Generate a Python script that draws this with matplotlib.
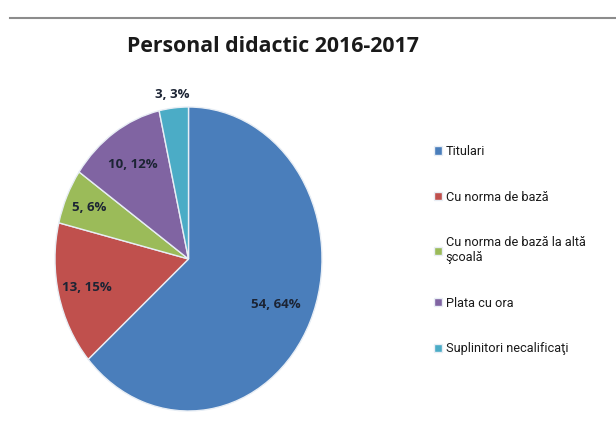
import numpy as np
import matplotlib.pyplot as plt
from matplotlib.lines import Line2D

categories = ["Titulari", "Cu norma de bază", "Cu norma de bază la altă\nşcoală",
              "Plata cu ora", "Suplinitori necalificaţi"]
values = [54, 13, 5, 10, 3]
percents = [64, 15, 6, 12, 3]
colors = ["#4a7ebb", "#c0504d", "#9bbb59", "#8064a2", "#4bacc6"]
label_dist = [0.72, 0.78, 0.82, 0.75, 1.09]

fig = plt.figure(figsize=(6.16, 4.41), dpi=100)
fig.patch.set_facecolor("white")

# gray rule at the top
fig.add_artist(Line2D([10 / 616, 1.0], [1 - 18 / 441, 1 - 18 / 441],
                      color="#8c8c8c", lw=1.5))

fig.text(273 / 616, 1 - 47 / 441, "Personal didactic 2016-2017",
         ha="center", va="center", fontsize=15.3, fontweight="bold",
         family="Open Sans", color="#1a1a1a")

# pie drawn slightly taller than wide, like the original
ax = fig.add_axes([55 / 616, 1 - 411 / 441, 267 / 616, 304 / 441])
wedges, _ = ax.pie(values, colors=colors, startangle=90, counterclock=False,
                   radius=1.0, wedgeprops=dict(edgecolor="#e8eef5", linewidth=1.0))
ax.set_aspect("auto")
ax.set_xlim(-1, 1)
ax.set_ylim(-1, 1)
ax.axis("off")

for w, v, p, d in zip(wedges, values, percents, label_dist):
    mid = np.deg2rad((w.theta1 + w.theta2) / 2)
    ax.text(d * np.cos(mid), d * np.sin(mid), f"{v}, {p}%",
            ha="center", va="center", fontsize=9.5, fontweight="bold",
            family="Open Sans", color="#1c2434", clip_on=False)

leg = fig.legend(wedges, categories, loc="upper left",
                 bbox_to_anchor=(434 / 616, 1 - 145 / 441),
                 borderaxespad=0, borderpad=0,
                 frameon=False, prop=dict(family="Roboto", size=9.2),
                 handlelength=0.6, handleheight=0.6, handletextpad=0.3,
                 labelspacing=2.55)
for t in leg.get_texts():
    t.set_color("#1a1a1a")

fig.savefig("out.png", dpi=100)
